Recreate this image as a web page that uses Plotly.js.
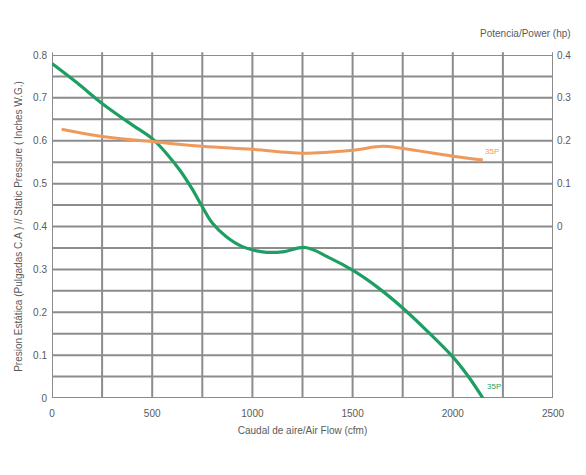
<!DOCTYPE html>
<html><head><meta charset="utf-8">
<script src="https://cdn.plot.ly/plotly-3.0.1.min.js"></script>
<style>html,body{margin:0;padding:0;background:#fff}#c{width:586px;height:475px}</style>
</head><body><div id="c"></div>
<script>
// Static pressure curve (in. W.G.)
var flowSP = [0, 125, 250, 400, 500, 570, 640, 700, 750, 800, 870, 950, 1050, 1150, 1265, 1380, 1500, 1625, 1750, 1875, 2000, 2075, 2150];
var staticPressure = [0.78, 0.735, 0.687, 0.637, 0.605, 0.571, 0.53, 0.487, 0.446, 0.408, 0.376, 0.353, 0.341, 0.341, 0.351, 0.328, 0.298, 0.258, 0.21, 0.155, 0.096, 0.052, 0.0];
// Power curve (hp), right axis
var flowPW = [48, 250, 500, 750, 1000, 1250, 1500, 1650, 1750, 2000, 2150];
var power = [0.227, 0.21, 0.198, 0.187, 0.18, 0.171, 0.178, 0.187, 0.182, 0.164, 0.155];
var rightTicks = [0, 0.1, 0.2, 0.3, 0.4];
var rightTickText = ['0', '0.1', '0.2', '0.3', '0.4'];
var curveLabel = '35P';

var FONT = '"Liberation Sans", Arial, sans-serif';
var GRID = '#8c8c8c';
var TXT = '#5a5a5a';

var traces = [
  {x: flowSP, y: staticPressure, mode: 'lines', line: {color: '#1f9e63', width: 3.2, shape: 'spline', smoothing: 1}, hoverinfo: 'skip', showlegend: false},
  {x: flowPW, y: power, yaxis: 'y2', mode: 'lines', line: {color: '#ef9a5c', width: 3, shape: 'spline', smoothing: 1}, hoverinfo: 'skip', showlegend: false}
];

var layout = {
  width: 586, height: 475,
  margin: {l: 52, r: 33, t: 55, b: 77},
  paper_bgcolor: '#fff', plot_bgcolor: '#fff',
  font: {family: FONT, size: 10, color: TXT},
  xaxis: {
    range: [0, 2500], tickvals: [0, 500, 1000, 1500, 2000, 2500],
    showgrid: false, zeroline: false, showline: false,
    ticks: '', ticklabelstandoff: 8,
    tickfont: {family: FONT, size: 10, color: TXT},
    title: {text: 'Caudal de aire/Air Flow (cfm)', font: {family: FONT, size: 10, color: TXT}, standoff: 8}
  },
  yaxis: {
    range: [0, 0.8], tickvals: [0, 0.1, 0.2, 0.3, 0.4, 0.5, 0.6, 0.7, 0.8],
    showgrid: false, zeroline: false, showline: false, ticks: '', ticklabelstandoff: 4,
    tickfont: {family: FONT, size: 10, color: TXT},
    title: {text: 'Presion Estática (Pulgadas C.A ) // Static Pressure ( Inches W.G.)', font: {family: FONT, size: 10, color: TXT}, standoff: 8}
  },
  yaxis2: {
    overlaying: 'y', side: 'right', range: [-0.4, 0.4],
    tickvals: rightTicks, ticktext: rightTickText,
    showgrid: false, zeroline: false, showline: false, ticks: '', ticklabelstandoff: 3,
    tickfont: {family: FONT, size: 10, color: TXT}
  },
  shapes: [],
  annotations: [
    {xref: 'paper', yref: 'paper', x: 1.04, y: 1.04, xanchor: 'right', yanchor: 'bottom', showarrow: false,
     text: 'Potencia/Power (hp)', font: {family: FONT, size: 10, color: TXT}},
    {xref: 'x', yref: 'y', x: 2160, y: 0.028, xanchor: 'left', yanchor: 'middle', showarrow: false,
     text: curveLabel, font: {family: FONT, size: 8, color: '#1f9e63'}},
    {xref: 'x', yref: 'y2', x: 2150, y: 0.176, xanchor: 'left', yanchor: 'middle', showarrow: false,
     text: curveLabel, font: {family: FONT, size: 8, color: '#ef9a5c'}}
  ]
};

// grid lines
for (var gx = 0; gx <= 2500; gx += 250) {
  layout.shapes.push({type: 'line', xref: 'x', yref: 'paper', x0: gx, x1: gx, y0: 0, y1: 1.008, line: {color: GRID, width: 2}, layer: 'below'});
}
for (var gy = 0; gy <= 0.8001; gy += 0.05) {
  layout.shapes.push({type: 'line', xref: 'paper', yref: 'y', x0: 0, x1: 1, y0: gy, y1: gy, line: {color: GRID, width: 2}, layer: 'below'});
}

Plotly.newPlot('c', traces, layout, {displayModeBar: false, staticPlot: true});
</script>
</body></html>
